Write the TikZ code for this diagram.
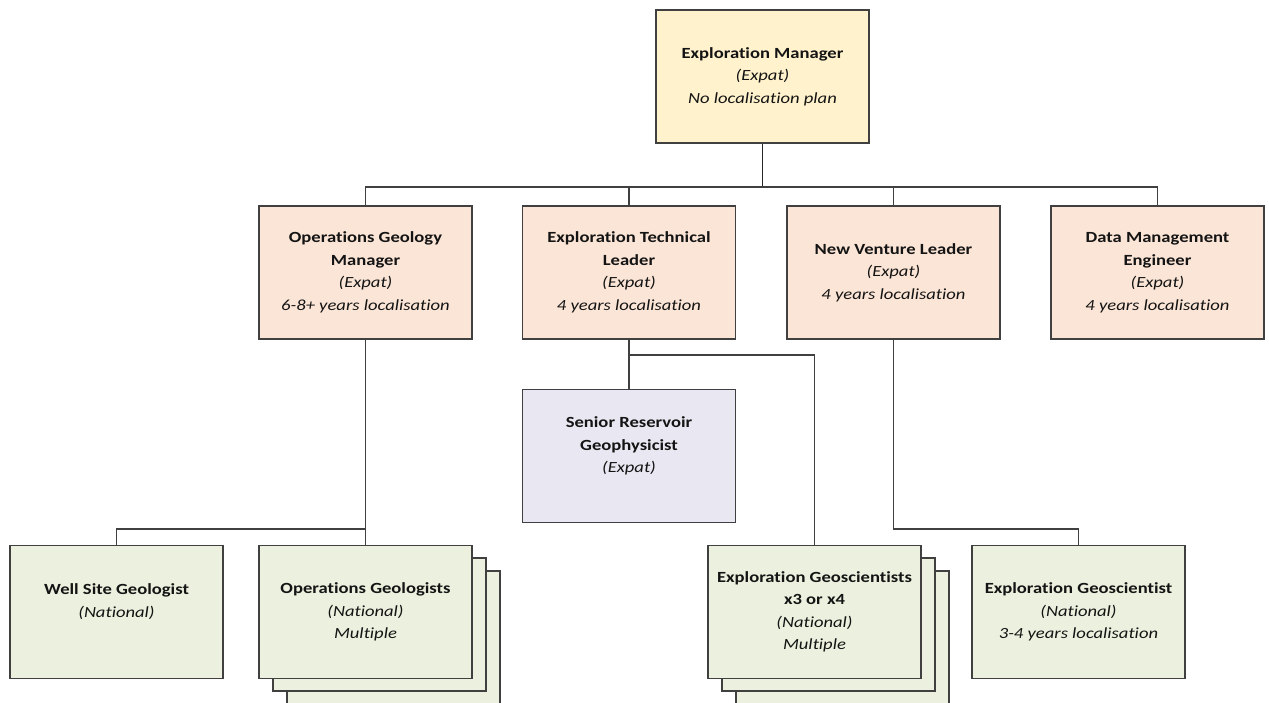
\documentclass[tikz,border=0pt]{standalone}
\usepackage{fontspec}
\setmainfont{Carlito}[FakeStretch=1.2, Ligatures={NoCommon}]
\definecolor{lineclr}{HTML}{404040}
\definecolor{txtclr}{HTML}{141414}
\definecolor{fillmgr}{HTML}{FFF2CC}
\definecolor{filllead}{HTML}{FBE5D6}
\definecolor{fillsr}{HTML}{E9E7F1}
\definecolor{fillnat}{HTML}{EBF1DE}
\begin{document}
\begin{tikzpicture}[x=1pt,y=-1pt,
  box/.style={draw=lineclr, line width=1.2pt, minimum width=213pt, minimum height=133pt,
    inner sep=0pt, align=center, text=txtclr, font=\fontsize{15.5}{22.5}\selectfont},
  mgrbox/.style={box, fill=fillmgr},
  leadbox/.style={box, fill=filllead},
  srbox/.style={box, fill=fillsr},
  natbox/.style={box, fill=fillnat},
  conn/.style={draw=lineclr, line width=1.2pt},
  mainconn/.style={draw=black!85, line width=1.8pt}]
\useasboundingbox (0,0) rectangle (1269,702);
\clip (0,0) rectangle (1269,702);

% top
\node[mgrbox] (mgr) at (762.5,76.5) {\textbf{Exploration Manager}\\\textit{(Expat)}\\\textit{No localisation plan}};

% second level
\node[leadbox] (ogm) at (365.5,272.5) {\textbf{Operations Geology}\\\textbf{Manager}\\\textit{(Expat)}\\\textit{6-8+ years localisation}};
\node[leadbox] (etl) at (629,272.5) {\textbf{Exploration Technical}\\\textbf{Leader}\\\textit{(Expat)}\\\textit{4 years localisation}};
\node[leadbox] (nvl) at (893.5,272.5) {\textbf{New Venture Leader}\\\textit{(Expat)}\\\textit{4 years localisation}};
\node[leadbox] (dme) at (1157.5,272.5) {\textbf{Data Management}\\\textbf{Engineer}\\\textit{(Expat)}\\\textit{4 years localisation}};

% senior geophysicist
\node[srbox] (srg) at (629,456) {\textbf{Senior Reservoir}\\\textbf{Geophysicist}\\\textit{(Expat)}\\\mbox{}};

% third level, stacked cards first
\node[natbox] (opsC) at (393.5,637.5) {};
\node[natbox] (opsB) at (379.5,624.5) {};
\node[natbox] (egsC) at (842.5,637.5) {};
\node[natbox] (egsB) at (828.5,624.5) {};

\node[natbox] (wsg) at (116.5,612) {\textbf{Well Site Geologist}\\\textit{(National)}\\\mbox{}};
\node[natbox] (ops) at (365.5,612) {\textbf{Operations Geologists}\\\textit{(National)}\\\textit{Multiple}};
\node[natbox] (egs) at (814.5,612) {\textbf{Exploration Geoscientists}\\\textbf{x3 or x4}\\\textit{(National)}\\\textit{Multiple}};
\node[natbox] (eg1) at (1078.5,612) {\textbf{Exploration Geoscientist}\\\textit{(National)}\\\textit{3-4 years localisation}};

% connectors
\coordinate (bus) at (762.5,187);
\coordinate (bogm) at (365.5,529);
\coordinate (betl) at (629,355);
\coordinate (bnvl) at (893.5,529);

\draw[mainconn] (mgr.south) -- (bus);
\draw[conn] (ogm.north) |- (bus);
\draw[conn] (etl.north) |- (bus);
\draw[conn] (nvl.north) |- (bus);
\draw[conn] (dme.north) |- (bus);

\draw[conn] (ogm.south) -- (ops.north);
\draw[conn] (wsg.north) |- (bogm);

\draw[conn] (etl.south) -- (srg.north);
\draw[conn] (egs.north) |- (betl);

\draw[conn] (nvl.south) -- (bnvl) -| (eg1.north);
\end{tikzpicture}
\end{document}
